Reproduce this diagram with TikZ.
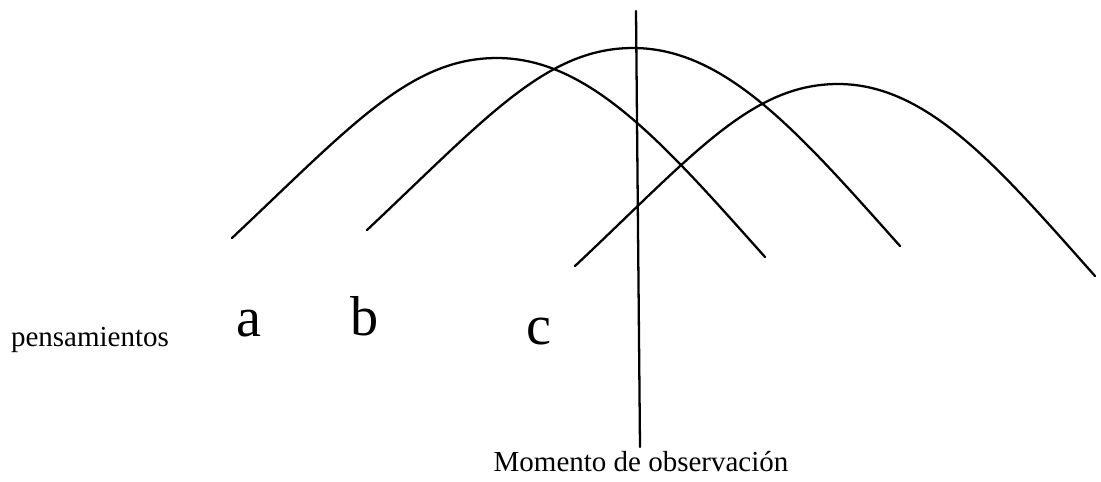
\documentclass[tikz,border=0pt]{standalone}
\usepackage{fontspec}
\setmainfont{Liberation Serif}
\usetikzlibrary{positioning}
\tikzset{
  hump/base/.style={draw=black, line width=1.3pt, line cap=round},
  hump/curve/.style={hump/base},
  hump/marker/.style={hump/base, line width=1.3pt},
  hump/letter/.style={font=\fontsize{32}{36}\selectfont, anchor=base},
  hump/note/.style={font=\fontsize{16.5}{19}\selectfont, anchor=base},
}

\begin{document}
\begin{tikzpicture}[x=0.02cm, y=-0.02cm]
\useasboundingbox (0,0) rectangle (1101,481);

% ===== Curve end points and peaks =====
\coordinate (a0) at (232,238); \coordinate (a1) at (497,58); \coordinate (a2) at (765,257);
\coordinate (b0) at (367,230); \coordinate (b1) at (633,48); \coordinate (b2) at (900,246);
\coordinate (c0) at (575,266); \coordinate (c1) at (838,84); \coordinate (c2) at (1095,276);

% ===== Thought curves =====
\draw[hump/curve] (a0) .. controls (351,126) and (410,58) .. (a1)
                       .. controls (590,58) and (665,145) .. (a2);
\draw[hump/curve] (b0) .. controls (486,118) and (546,48) .. (b1)
                       .. controls (726,48) and (800,134) .. (b2);
\draw[hump/curve] (c0) .. controls (693,155) and (751,84) .. (c1)
                       .. controls (928,84) and (999,168) .. (c2);

% ===== Observation line =====
\coordinate (obs_top) at (636,11);
\coordinate (obs_bot) at (640,447);
\draw[hump/marker] (obs_top) -- (obs_bot);

% ===== Labels =====
\node[hump/note]   (thoughts) at (90,346)  {pensamientos};
\node[hump/letter] (lab_a)    at (249,336) {a};
\node[hump/letter] (lab_b)    at (365,335) {b};
\node[hump/letter] (lab_c)    at (539,344) {c};
\node[hump/note]   (moment)   at (641,471) {Momento de observación};

\end{tikzpicture}
\end{document}
